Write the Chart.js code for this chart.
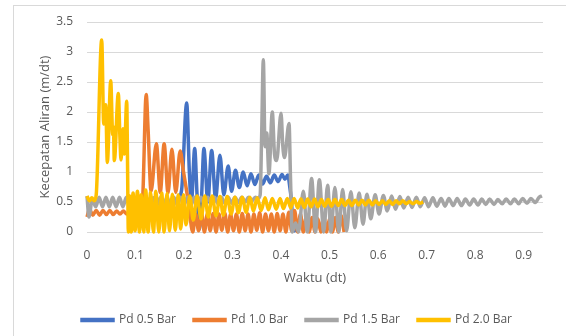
<!DOCTYPE html>
<html>
<head>
<meta charset="utf-8">
<script src="https://cdn.jsdelivr.net/npm/chart.js@4.4.1/dist/chart.umd.min.js"></script>
<style>
  html, body { margin: 0; padding: 0; background: #fff; overflow: hidden; }
  #wrap { position: relative; width: 566px; height: 336px; }
  #frame { position: absolute; left: 13px; top: 5px; width: 600px; height: 400px; border: 1px solid #d9d9d9; }
  canvas { position: absolute; left: 0; top: 0; }
</style>
</head>
<body>
<div id="wrap">
  <div id="frame"></div>
  <canvas id="flow" width="566" height="336"></canvas>
</div>
<script>
// series labels
var seriesNames = ['Pd 0.5 Bar', 'Pd 1.0 Bar', 'Pd 1.5 Bar', 'Pd 2.0 Bar'];

// [waktu (dt), kecepatan (m/dt)]
var pd05 = [
  [0.175,0.5],[0.185,0.52],[0.195,0.7],[0.2055,2.15],[0.211,1.0],[0.215,0.45],[0.222,1.39],[0.227,0.6],
  [0.232,0.05],[0.236,0.55],[0.241,1.39],[0.249,0.5],[0.257,1.36],[0.265,0.55],[0.274,1.28],[0.282,0.62],
  [0.291,1.1],[0.298,0.68],[0.306,1.03],[0.314,0.74],[0.322,1.0],[0.33,0.77],[0.338,0.97],[0.346,0.79],
  [0.354,0.95],[0.362,0.8],[0.37,0.93],[0.378,0.82],[0.386,0.95],[0.394,0.84],[0.402,0.96],[0.408,0.88],
  [0.414,0.95],[0.418,0.75],[0.421,0.55],[0.425,0.1],[0.43,0]
];

var pd10 = [
  [0,0.25],[0.005,0.38],[0.012,0.28],[0.019,0.36],[0.026,0.28],[0.033,0.36],[0.04,0.29],[0.047,0.36],
  [0.054,0.29],[0.061,0.35],[0.068,0.3],[0.075,0.35],[0.082,0.3],[0.089,0.35],[0.096,0.3],[0.103,0.36],
  [0.11,0.33],[0.115,0.6],[0.122,2.29],[0.126,1.7],[0.132,0.68],[0.143,1.47],[0.151,0.66],[0.159,1.47],
  [0.167,0.65],[0.175,1.38],[0.183,0.66],[0.192,1.35],[0.199,1.0],[0.209,0.5],[0.218,0],
  [0.224,0.3],[0.23,0.02],[0.236,0.32],[0.242,0],[0.248,0.3],[0.254,0.02],[0.26,0.31],[0.266,0],
  [0.272,0.3],[0.278,0.03],[0.284,0.32],[0.29,0],[0.296,0.3],[0.302,0.02],[0.308,0.3],[0.314,0],
  [0.32,0.31],[0.326,0.02],[0.332,0.3],[0.338,0],[0.344,0.3],[0.35,0.03],[0.356,0.32],[0.362,0],
  [0.368,0.3],[0.374,0.02],[0.38,0.3],[0.386,0],[0.392,0.31],[0.398,0.02],[0.404,0.3],[0.41,0],
  [0.416,0.33],[0.422,0.02],[0.428,0.36],[0.434,0],[0.44,0.3],[0.446,0],[0.452,0.25],[0.458,0],
  [0.464,0.24],[0.47,0],[0.476,0.22],[0.482,0],[0.488,0.25],[0.494,0],[0.5,0.22],[0.506,0],
  [0.512,0.24],[0.518,0],[0.524,0.27],[0.53,0]
];

var pd15 = [
  [0,0.6],[0.004,0.25],[0.011,0.55],[0.018,0.42],[0.025,0.58],[0.032,0.42],[0.039,0.58],[0.046,0.42],
  [0.053,0.58],[0.06,0.42],[0.067,0.58],[0.074,0.42],[0.081,0.58],[0.088,0.43],[0.095,0.57],[0.102,0.43],
  [0.109,0.57],[0.116,0.43],[0.123,0.57],[0.13,0.44],[0.137,0.57],[0.144,0.44],[0.151,0.57],[0.158,0.44],
  [0.165,0.58],[0.172,0.44],[0.179,0.58],[0.186,0.45],[0.193,0.58],[0.2,0.45],[0.207,0.58],[0.214,0.45],
  [0.221,0.58],[0.228,0.46],[0.235,0.58],[0.242,0.46],[0.249,0.58],[0.256,0.47],[0.263,0.58],[0.27,0.47],
  [0.277,0.58],[0.284,0.48],[0.291,0.58],[0.298,0.48],[0.305,0.58],[0.312,0.49],[0.319,0.58],[0.326,0.5],
  [0.333,0.58],[0.34,0.52],[0.347,0.58],[0.353,0.56],[0.357,0.62],[0.36,1.6],[0.3635,2.87],[0.367,1.42],
  [0.3705,1.65],[0.375,0.97],[0.382,2.0],[0.3865,1.3],[0.391,1.19],[0.4,1.98],[0.4035,1.45],[0.407,1.24],
  [0.4165,1.81],[0.4195,0.9],[0.423,0],[0.43,0.15],[0.436,0],[0.446,0.68],[0.454,0],[0.463,0.89],
  [0.471,0],[0.479,0.87],[0.488,0],[0.496,0.78],[0.503,0],[0.511,0.74],[0.519,0],[0.527,0.71],
  [0.535,0.02],[0.544,0.67],[0.552,0.07],[0.561,0.65],[0.569,0.13],[0.577,0.63],[0.585,0.22],[0.594,0.62],
  [0.602,0.3],[0.611,0.61],[0.619,0.35],[0.628,0.6],[0.636,0.38],[0.645,0.59],[0.653,0.4],[0.662,0.58],
  [0.67,0.41],[0.679,0.58],[0.687,0.42],[0.696,0.57],[0.704,0.42],[0.713,0.57],[0.721,0.43],[0.73,0.56],
  [0.738,0.43],[0.746,0.56],[0.755,0.44],[0.763,0.56],[0.772,0.44],[0.78,0.55],[0.789,0.45],[0.797,0.55],
  [0.806,0.45],[0.814,0.55],[0.822,0.46],[0.83,0.55],[0.839,0.46],[0.847,0.54],[0.856,0.47],[0.864,0.55],
  [0.873,0.47],[0.881,0.55],[0.89,0.47],[0.898,0.56],[0.907,0.48],[0.915,0.56],[0.924,0.49],[0.932,0.58],
  [0.938,0.6]
];

var pd20 = [
  [0,0.6],[0.005,0.52],[0.01,0.57],[0.015,0.52],[0.019,0.62],[0.0303,3.2],[0.0345,1.8],[0.0386,2.12],
  [0.0419,1.16],[0.0489,2.52],[0.053,1.62],[0.0545,1.75],[0.0563,1.19],[0.0645,2.31],[0.068,1.55],[0.0701,1.2],
  [0.074,1.72],[0.077,1.3],[0.0819,2.18],[0.0835,1.2],[0.0852,0],
  [0.088,0.6],[0.091,0],[0.095,0.65],[0.099,0.02],[0.104,0.68],[0.108,0],[0.112,0.62],[0.117,0],
  [0.121,0.7],[0.126,0],[0.131,0.66],[0.137,0],[0.142,0.68],[0.148,0],[0.154,0.65],[0.159,0],
  [0.165,0.64],[0.17,0.02],[0.176,0.63],[0.182,0.03],[0.188,0.62],[0.193,0.05],[0.199,0.62],[0.204,0.12],
  [0.212,0.6],[0.219,0.2],[0.227,0.6],[0.235,0.22],[0.243,0.6],[0.25,0.25],[0.258,0.6],[0.266,0.27],
  [0.274,0.59],[0.281,0.28],[0.289,0.59],[0.297,0.3],[0.305,0.58],[0.312,0.32],[0.32,0.58],[0.328,0.33],
  [0.336,0.58],[0.343,0.35],[0.351,0.57],[0.359,0.36],[0.367,0.57],[0.374,0.37],[0.382,0.56],[0.39,0.38],
  [0.398,0.56],[0.405,0.39],[0.413,0.56],[0.42,0.4],[0.427,0.56],[0.434,0.4],[0.441,0.55],[0.448,0.41],
  [0.455,0.55],[0.462,0.42],[0.469,0.55],[0.476,0.42],[0.483,0.54],[0.49,0.43],[0.497,0.54],[0.504,0.43],
  [0.511,0.54],[0.518,0.44],[0.525,0.54],[0.532,0.44],[0.539,0.53],[0.546,0.44],[0.553,0.53],[0.56,0.45],
  [0.567,0.53],[0.574,0.45],[0.581,0.53],[0.588,0.45],[0.595,0.52],[0.602,0.46],[0.609,0.52],[0.616,0.46],
  [0.623,0.52],[0.63,0.46],[0.637,0.52],[0.644,0.47],[0.651,0.52],[0.658,0.47],[0.665,0.51],[0.672,0.47],
  [0.679,0.51],[0.686,0.48],[0.693,0.5]
];

// axis ticks
var xTicks = [0, 0.1, 0.2, 0.3, 0.4, 0.5, 0.6, 0.7, 0.8, 0.9];
var yTicks = [0, 0.5, 1, 1.5, 2, 2.5, 3, 3.5];

var colors = ['#4472c4', '#ed7d31', '#a5a5a5', '#ffc000'];
var allSeries = [pd05, pd10, pd15, pd20];

var textColor = '#595959';
var gridColor = '#d9d9d9';
var fontFamily = '"Open Sans", sans-serif';

function toPoints(arr) {
  return arr.map(function (p) { return { x: p[0], y: p[1] }; });
}

var datasets = allSeries.map(function (s, i) {
  return {
    label: seriesNames[i],
    data: toPoints(s),
    borderColor: colors[i],
    backgroundColor: colors[i],
    borderWidth: 3.5,
    pointRadius: 0,
    cubicInterpolationMode: 'monotone',
    clip: false,
    order: 3 - i   // last series painted on top, like Excel
  };
});

var ctx = document.getElementById('flow').getContext('2d');
var chart = new Chart(ctx, {
  type: 'line',
  data: { datasets: datasets },
  options: {
    responsive: false,
    animation: false,
    events: [],
    layout: { padding: { left: 51, top: 22, right: 23, bottom: 0 } },
    plugins: {
      tooltip: { enabled: false },
      legend: {
        position: 'bottom',
        maxHeight: 41,
        labels: {
          boxWidth: 31,
          boxHeight: 1,
          padding: 18,
          color: textColor,
          font: { family: fontFamily, size: 12 },
          sort: function (a, b) { return a.datasetIndex - b.datasetIndex; }
        }
      }
    },
    scales: {
      x: {
        type: 'linear',
        min: 0,
        max: 0.94,
        afterBuildTicks: function (scale) {
          scale.ticks = xTicks.map(function (v) { return { value: v }; });
        },
        afterFit: function (scale) { scale.height = 64; },
        grid: { display: false, drawTicks: false },
        border: { display: false },
        ticks: {
          padding: 16,
          color: textColor,
          font: { family: fontFamily, size: 12 },
          maxRotation: 0,
          callback: function (v) { return String(Math.round(v * 10) / 10); }
        },
        title: {
          display: true,
          text: 'Waktu (dt)',
          color: textColor,
          font: { family: fontFamily, size: 13 },
          padding: { top: 0, bottom: 10 }
        }
      },
      y: {
        min: 0,
        max: 3.5,
        afterBuildTicks: function (scale) {
          scale.ticks = yTicks.map(function (v) { return { value: v }; });
        },
        afterFit: function (scale) { scale.width = 36; },
        grid: { color: gridColor, lineWidth: 1, drawTicks: false },
        border: { display: false },
        ticks: {
          padding: 14,
          color: textColor,
          font: { family: fontFamily, size: 12 },
          callback: function (v) { return String(v); }
        },
        title: {
          display: true,
          text: 'Kecepatan Aliran (m/dt)',
          color: textColor,
          font: { family: fontFamily, size: 13 },
          padding: { top: -14, bottom: 0 }
        }
      }
    }
  }
});
</script>
</body>
</html>
